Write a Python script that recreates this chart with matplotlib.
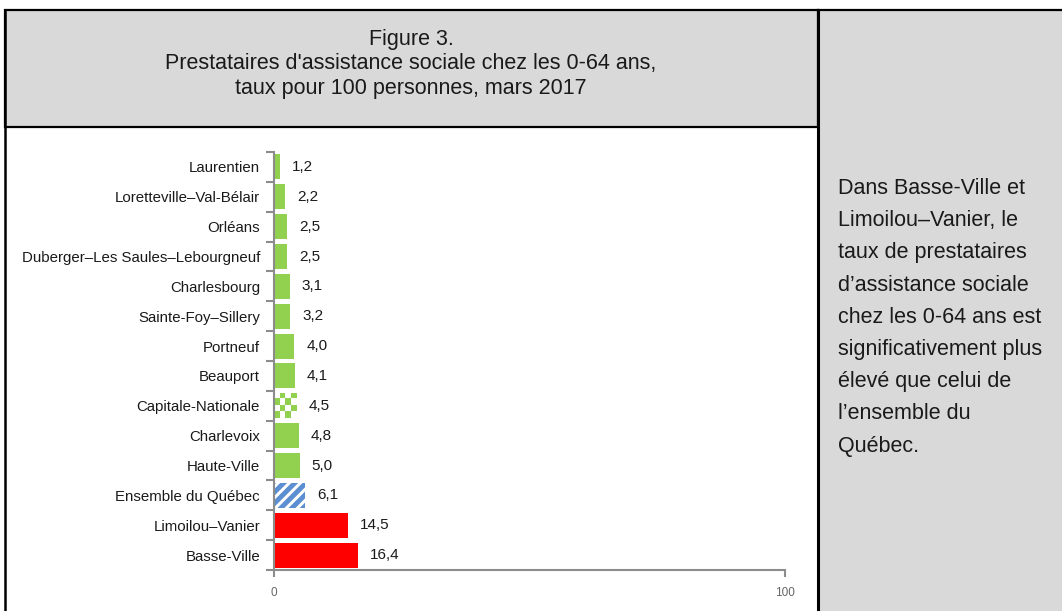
import numpy as np
import matplotlib.pyplot as plt
from matplotlib.patches import Rectangle

plt.rcParams['font.family'] = ['Liberation Sans', 'DejaVu Sans']
plt.rcParams['hatch.linewidth'] = 3.5

# Data (top to bottom as displayed)
territoires = ["Laurentien", "Loretteville\u2013Val-Bélair", "Orléans",
               "Duberger\u2013Les Saules\u2013Lebourgneuf", "Charlesbourg",
               "Sainte-Foy\u2013Sillery", "Portneuf", "Beauport",
               "Capitale-Nationale", "Charlevoix", "Haute-Ville",
               "Ensemble du Québec", "Limoilou\u2013Vanier", "Basse-Ville"]
taux = [1.2, 2.2, 2.5, 2.5, 3.1, 3.2, 4.0, 4.1, 4.5, 4.8, 5.0, 6.1, 14.5, 16.4]
groupe = ["local"] * 8 + ["region", "local", "local", "quebec", "eleve", "eleve"]
x_ticks = [0, 100]

titre = ("Figure 3.\nPrestataires d'assistance sociale chez les 0-64 ans,\n"
         "taux pour 100 personnes, mars 2017")
commentaire = ("Dans Basse-Ville et\nLimoilou\u2013Vanier, le\ntaux de prestataires\n"
               "d\u2019assistance sociale\nchez les 0-64 ans est\nsignificativement plus\n"
               "élevé que celui de\nl\u2019ensemble du\nQuébec.")

GREEN = "#92d050"
RED = "#ff0000"
BLUE = "#5b8fd2"
GRAY_BG = "#d9d9d9"
AXIS_GRAY = "#8c8c8c"

W, H = 1062, 611
fig = plt.figure(figsize=(W / 100, H / 100), dpi=100)

def fx(px):
    return px / W

def fy(py):
    return 1 - py / H

# panel backgrounds and borders
fig.patches.append(Rectangle((fx(5), fy(127)), fx(818) - fx(5), fy(10) - fy(127),
                             transform=fig.transFigure, facecolor=GRAY_BG,
                             edgecolor="black", linewidth=1.6, zorder=0))
fig.patches.append(Rectangle((fx(818), 0), 1 - fx(818), fy(10),
                             transform=fig.transFigure, facecolor=GRAY_BG,
                             edgecolor="none", zorder=0))
fig.add_artist(plt.Line2D([fx(5), fx(5)], [0, fy(10)], transform=fig.transFigure,
                          color="black", linewidth=1.8))
fig.add_artist(plt.Line2D([fx(818), fx(818)], [0, fy(10)], transform=fig.transFigure,
                          color="black", linewidth=2.2))
fig.add_artist(plt.Line2D([fx(818), 1], [fy(10), fy(10)], transform=fig.transFigure,
                          color="black", linewidth=1.6))

fig.text(fx(411), fy(64), titre, ha="center", va="center", fontsize=15.5,
         linespacing=1.2, color="#1a1a1a")
fig.text(fx(838), fy(178), commentaire, ha="left", va="top", fontsize=15.5,
         linespacing=1.7, color="#1a1a1a")

ax = fig.add_axes([fx(274), fy(570), fx(785) - fx(274), fy(152) - fy(570)])
n = len(territoires)
y = np.arange(n)

colors = {"local": GREEN, "region": "white", "quebec": "white", "eleve": RED}
for i, (v, g) in enumerate(zip(taux, groupe)):
    if g == "quebec":
        ax.barh(i, v, height=0.84, color="white", edgecolor=BLUE, hatch="///",
                linewidth=0)
    elif g == "region":
        bars = ax.barh(i, v, height=0.84, color="white", linewidth=0)
        b = bars[0]
        checker = (np.indices((4, 4)).sum(axis=0) % 2).astype(float)
        cmap = plt.matplotlib.colors.ListedColormap(["white", GREEN])
        im = ax.imshow(checker, cmap=cmap, aspect="auto", interpolation="nearest",
                       extent=[b.get_x(), b.get_x() + b.get_width(),
                               b.get_y() + b.get_height(), b.get_y()], zorder=2)
        im.set_clip_path(b)
    else:
        ax.barh(i, v, height=0.84, color=colors[g], linewidth=0)
    ax.text(v, i, f"{v:.1f}".replace(".", ","), va="center", ha="left",
            fontsize=11, color="#1a1a1a",
            transform=ax.transData + plt.matplotlib.transforms.ScaledTranslation(
                12 / 100, 0, fig.dpi_scale_trans))

ax.set_xlim(0, 100)
ax.set_ylim(n - 0.5, -0.5)
ax.set_yticks(y)
ax.set_yticklabels(territoires, fontsize=10.8, color="#1a1a1a")
ax.tick_params(axis="y", length=0, pad=10)
ax.set_yticks(np.arange(n + 1) - 0.5, minor=True)
ax.tick_params(axis="y", which="minor", length=6, color=AXIS_GRAY, width=1.5)
ax.set_xticks(x_ticks)
ax.set_xticklabels([str(t) for t in x_ticks], fontsize=8.5, color="#666666")
ax.tick_params(axis="x", length=5, color=AXIS_GRAY, width=1.5, pad=7)

for s in ["top", "right"]:
    ax.spines[s].set_visible(False)
for s in ["left", "bottom"]:
    ax.spines[s].set_color(AXIS_GRAY)
    ax.spines[s].set_linewidth(1.5)
ax.set_facecolor("none")

fig.savefig("out.png", dpi=100)
